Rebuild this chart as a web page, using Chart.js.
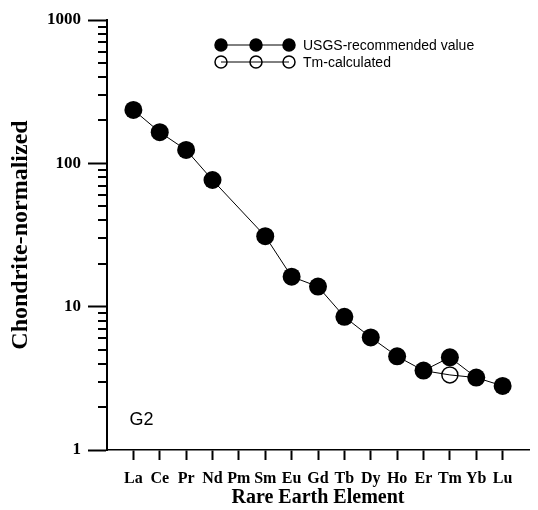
<!DOCTYPE html>
<html>
<head>
<meta charset="utf-8">
<script src="https://cdn.jsdelivr.net/npm/chart.js@4/dist/chart.umd.min.js"></script>
<style>
  html, body { margin: 0; padding: 0; background: #fff; }
  #wrap { width: 538px; height: 510px; position: relative; }
</style>
</head>
<body>
<div id="wrap"><canvas id="ree"></canvas></div>
<script>
// Rare earth elements in atomic order (Pm has no measured value)
const elements = ['La', 'Ce', 'Pr', 'Nd', 'Pm', 'Sm', 'Eu', 'Gd', 'Tb', 'Dy', 'Ho', 'Er', 'Tm', 'Yb', 'Lu'];
// Chondrite-normalized abundances, sample G2
const usgsValues = [236, 165, 124, 76.5, null, 31, 16.2, 13.8, 8.5, 6.1, 4.5, 3.58, 4.43, 3.2, 2.8];
// Tm value calculated from neighbouring Er and Yb
const tmCalcValues = [null, null, null, null, null, null, null, null, null, null, null, 3.58, 3.34, 3.2, null];
const yMajorTicks = [1, 10, 100, 1000];
const legendLabels = ['USGS-recommended value', 'Tm-calculated'];
const sampleName = 'G2';

const toPoints = (vals) => vals.map((v, i) => ({ x: i, y: v }));

// every decade step 1..9 for the log axis tick marks
const logSteps = [];
for (let d = 1; d < 1000; d *= 10) {
  for (let m = 1; m < 10; m++) logSteps.push(d * m);
}
logSteps.push(1000);

const serif = '"Liberation Serif", "Times New Roman", serif';
const sans = '"Liberation Sans", Arial, sans-serif';

// Short minor tick marks, the two-row key and the sample label
const decorations = {
  id: 'decorations',
  afterDraw(chart) {
    const ctx = chart.ctx;
    const xs = chart.scales.x;
    const ys = chart.scales.y;
    ctx.save();
    ctx.strokeStyle = '#000';
    ctx.lineWidth = 2;
    logSteps.forEach(v => {
      if (yMajorTicks.includes(v)) return;
      const py = Math.round(ys.getPixelForValue(v));
      ctx.beginPath();
      ctx.moveTo(ys.right - 9, py);
      ctx.lineTo(ys.right, py);
      ctx.stroke();
    });

    const kx = [221, 256, 289];
    const rows = [{ y: 45, fill: '#000' }, { y: 62, fill: '#fff' }];
    rows.forEach((r, k) => {
      kx.forEach(cx => {
        ctx.beginPath();
        ctx.arc(cx, r.y, 6, 0, Math.PI * 2);
        ctx.fillStyle = r.fill;
        ctx.fill();
        ctx.lineWidth = 1.5;
        ctx.stroke();
      });
      ctx.lineWidth = 1;
      ctx.beginPath();
      ctx.moveTo(kx[0], r.y);
      ctx.lineTo(kx[2], r.y);
      ctx.stroke();
      ctx.fillStyle = '#000';
      ctx.font = '14px ' + sans;
      ctx.textBaseline = 'middle';
      ctx.textAlign = 'left';
      ctx.fillText(legendLabels[k], 303, r.y + 1);
    });
    ctx.font = '18px ' + sans;
    ctx.textBaseline = 'middle';
    ctx.fillText(sampleName, xs.getPixelForValue(-0.15), ys.getPixelForValue(1.62));
    ctx.restore();
  }
};

new Chart(document.getElementById('ree'), {
  type: 'line',
  data: {
    datasets: [
      {
        label: legendLabels[0],
        data: toPoints(usgsValues),
        borderColor: '#000',
        borderWidth: 1,
        backgroundColor: '#000',
        pointRadius: 9,
        pointBorderWidth: 0,
        pointBackgroundColor: '#000',
        spanGaps: true,
        order: 0
      },
      {
        label: legendLabels[1],
        data: toPoints(tmCalcValues),
        borderColor: '#000',
        borderWidth: 1,
        pointRadius: tmCalcValues.map((v, i) => elements[i] === 'Tm' ? 8 : 0),
        pointBorderWidth: 1.5,
        pointBorderColor: '#000',
        pointBackgroundColor: 'rgba(255,255,255,0)',
        spanGaps: false,
        order: 1
      }
    ]
  },
  options: {
    responsive: true,
    maintainAspectRatio: false,
    animation: false,
    events: [],
    layout: { padding: { top: 20, right: 0, left: 0, bottom: 0 } },
    plugins: { legend: { display: false }, tooltip: { enabled: false } },
    scales: {
      x: {
        type: 'linear',
        min: -1,
        max: 15,
        afterFit: (s) => { s.height = 60; },
        afterBuildTicks: (s) => { s.ticks = elements.map((_, i) => ({ value: i })); },
        grid: { display: true, drawOnChartArea: false, drawTicks: true, tickLength: 10, tickWidth: 2, tickColor: '#000' },
        border: { display: true, color: '#000', width: 1.5 },
        ticks: {
          autoSkip: false,
          maxRotation: 0,
          padding: 9,
          color: '#000',
          font: { family: serif, size: 16, weight: 'bold' },
          callback: (v) => elements[v] ?? ''
        },
        title: {
          display: true,
          text: 'Rare Earth Element',
          color: '#000',
          font: { family: serif, size: 20, weight: 'bold' },
          padding: { top: 0, bottom: 0 }
        }
      },
      y: {
        type: 'logarithmic',
        min: 1,
        max: 1000,
        afterFit: (s) => { s.width = 107; },
        afterBuildTicks: (s) => { s.ticks = logSteps.map(v => ({ value: v, major: yMajorTicks.includes(v) })); },
        grid: {
          display: true,
          drawOnChartArea: false,
          drawTicks: true,
          tickLength: 19,
          tickWidth: 2,
          tickColor: (c) => (c.tick && yMajorTicks.includes(c.tick.value)) ? '#000' : 'rgba(0,0,0,0)'
        },
        border: { display: true, color: '#000', width: 2 },
        ticks: {
          autoSkip: false,
          padding: 7,
          color: '#000',
          font: { family: serif, size: 17, weight: 'bold' },
          callback: (v) => yMajorTicks.includes(v) ? String(v) : ''
        },
        title: {
          display: true,
          text: 'Chondrite-normalized',
          color: '#000',
          font: { family: serif, size: 24, weight: 'bold' },
          padding: { top: 6, bottom: 0 }
        }
      }
    }
  },
  plugins: [decorations]
});
</script>
</body>
</html>
